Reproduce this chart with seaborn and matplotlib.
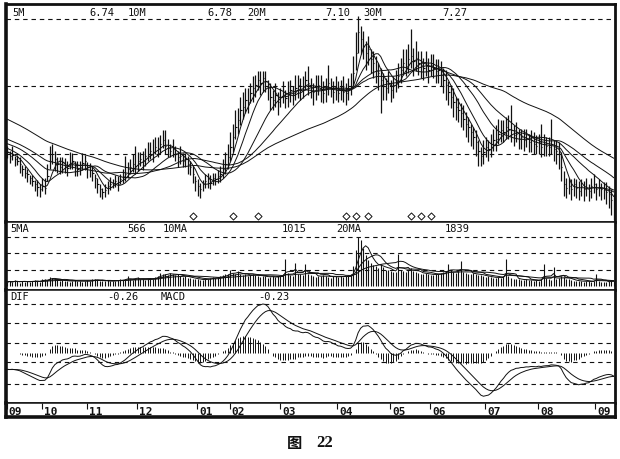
import numpy as np
import pandas as pd
import matplotlib
matplotlib.use("Agg")
import matplotlib.pyplot as plt
import seaborn as sns
from matplotlib.transforms import blended_transform_factory

# closes before the first visible bar (only used to warm up the MAs / MACD,
# estimated from where the MA lines start at the left edge)
prior_close = [
    10.20, 10.15, 10.10, 10.12, 10.05, 10.00, 9.98, 9.95, 9.90, 9.92,
    9.85, 9.80, 9.78, 9.75, 9.70, 9.65, 9.62, 9.58, 9.55, 9.50,
    9.45, 9.42, 9.38, 9.35, 9.30, 9.25, 9.22, 9.18, 9.15, 9.10,
    8.95, 8.90, 8.85, 8.80, 8.78, 8.72, 8.68, 8.65, 8.60, 8.57,
    8.55, 8.52, 8.50, 8.48, 8.47, 8.45, 8.43, 8.42, 8.40, 8.38,
    8.35, 8.32, 8.30, 8.28, 8.25, 8.20, 8.15, 8.10, 8.05, 8.00,
]

# daily closes, Sep .. Sep (243 bars)
close = [
    8.05, 7.95, 7.98, 7.85, 7.80, 7.70, 7.55, 7.45, 7.40, 7.28,
    7.20, 7.10, 7.02, 6.95, 7.05, 7.00, 7.35, 7.80, 8.00, 7.85,
    7.70, 7.60, 7.75, 7.62, 7.58, 7.70, 7.80, 7.65, 7.55, 7.62,
    7.72, 7.78, 7.60, 7.52, 7.45, 7.30, 7.10, 6.95, 6.88, 6.92,
    7.05, 7.12, 7.15, 7.20, 7.10, 7.25, 7.35, 7.40, 7.55, 7.60,
    7.70, 7.65, 7.80, 7.85, 7.78, 7.95, 8.00, 8.10, 8.05, 8.20,
    8.15, 8.30, 8.40, 8.25, 8.20, 8.10, 8.15, 8.00, 7.90, 7.95,
    7.80, 7.85, 7.70, 7.60, 7.40, 7.20, 7.05, 6.95, 7.10, 7.20,
    7.25, 7.15, 7.30, 7.25, 7.35, 7.40, 7.55, 7.70, 7.90, 8.20,
    8.50, 8.80, 9.00, 9.30, 9.40, 9.60, 9.55, 9.80, 9.95, 10.05,
    10.20, 10.10, 10.25, 10.15, 9.95, 9.70, 9.60, 9.75, 9.55, 9.70,
    9.85, 9.65, 9.80, 9.90, 9.75, 9.95, 10.05, 9.90, 10.00, 10.20,
    10.10, 9.95, 9.85, 9.95, 10.05, 9.90, 9.80, 9.95, 10.10, 10.00,
    9.85, 9.90, 9.80, 9.95, 9.85, 9.80, 9.90, 10.00, 10.40, 11.00,
    11.60, 11.40, 11.20, 11.00, 11.10, 10.80, 10.70, 10.50, 10.40, 10.20,
    10.00, 9.95, 10.10, 9.90, 10.05, 10.15, 10.30, 10.50, 10.70, 10.60,
    10.80, 10.90, 10.75, 10.85, 10.70, 10.65, 10.55, 10.60, 10.50, 10.65,
    10.55, 10.45, 10.50, 10.35, 10.20, 10.05, 9.85, 9.70, 9.55, 9.40,
    9.30, 9.20, 9.05, 8.90, 8.80, 8.65, 8.50, 8.35, 8.10, 7.95,
    8.05, 8.20, 8.15, 8.30, 8.40, 8.45, 8.60, 8.70, 8.65, 8.80,
    8.75, 8.70, 8.55, 8.60, 8.45, 8.50, 8.40, 8.45, 8.35, 8.40,
    8.30, 8.25, 8.35, 8.20, 8.30, 8.25, 8.20, 8.30, 8.15, 8.10,
    8.00, 7.60, 7.10, 7.00, 7.05, 6.95, 7.10, 7.00, 6.90, 7.05,
    6.95, 7.00, 6.90, 7.05, 7.10, 6.95, 7.00, 6.95, 6.92, 6.88,
    6.80, 6.65, 6.45,
]

# distance from close up to the high / down to the low
bar_up = [
    .20, .15, .25, .10, .18, .22, .12, .20, .15, .10,
    .18, .12, .20, .15, .25, .30, .35, .45, .30, .25,
    .20, .30, .15, .25, .20, .35, .22, .15, .25, .18,
    .30, .20, .15, .22, .18, .12, .20, .15, .10, .18,
    .15, .20, .12, .18, .25, .15, .20, .55, .20, .25,
    .30, .60, .25, .20, .30, .22, .35, .25, .40, .30,
    .35, .25, .30, .45, .25, .20, .30, .25, .20, .30,
    .22, .18, .25, .20, .25, .15, .20, .18, .12, .20,
    .18, .22, .15, .20, .18, .25, .30, .35, .40, .45,
    .40, .50, .35, .40, .45, .35, .40, .30, .35, .30,
    .25, .35, .20, .30, .25, .40, .30, .35, .30, .25,
    .30, .25, .35, .30, .25, .40, .30, .35, .30, .25,
    .50, .30, .25, .40, .30, .45, .35, .30, .55, .25,
    .30, .40, .35, .25, .45, .30, .35, .40, .50, .60,
    .50, .40, .45, .35, .40, .30, .35, .40, .30, .35,
    .40, .30, .35, .30, .25, .35, .40, .35, .40, .50,
    .45, .80, .40, .50, .35, .40, .30, .45, .35, .30,
    .40, .35, .30, .40, .35, .45, .30, .35, .40, .30,
    .35, .30, .40, .35, .30, .25, .30, .35, .30, .25,
    .35, .30, .25, .30, .35, .40, .45, .30, .35, .30,
    .40, .75, .30, .35, .30, .25, .35, .30, .25, .30,
    .35, .30, .25, .70, .30, .25, .30, .75, .25, .30,
    .35, .45, .40, .30, .25, .30, .20, .25, .30, .20,
    .25, .30, .20, .25, .30, .20, .25, .20, .25, .30,
    .25, .30, .35,
]
bar_dn = [
    .18, .22, .15, .20, .12, .25, .20, .15, .22, .18,
    .15, .20, .25, .22, .15, .20, .15, .25, .30, .35,
    .25, .20, .30, .18, .22, .15, .25, .30, .20, .25,
    .18, .25, .30, .20, .25, .30, .25, .22, .20, .18,
    .25, .20, .15, .18, .20, .15, .22, .20, .25, .18,
    .22, .25, .30, .20, .25, .30, .22, .25, .30, .20,
    .25, .30, .22, .25, .30, .20, .25, .22, .30, .25,
    .20, .25, .30, .22, .25, .30, .28, .25, .20, .22,
    .25, .20, .22, .18, .20, .22, .25, .30, .35, .40,
    .45, .35, .40, .45, .35, .40, .35, .30, .40, .35,
    .30, .35, .40, .30, .35, .40, .30, .35, .40, .30,
    .35, .30, .40, .35, .30, .35, .40, .30, .35, .30,
    .35, .30, .40, .35, .30, .35, .30, .40, .35, .30,
    .35, .30, .25, .35, .30, .35, .30, .25, .40, .50,
    .60, .45, .40, .50, .45, .40, .45, .40, .50, 1.00,
    .40, .35, .30, .35, .40, .30, .35, .40, .35, .30,
    .40, .35, .45, .40, .35, .40, .35, .30, .40, .35,
    .30, .35, .40, .35, .40, .45, .40, .35, .45, .40,
    .35, .40, .35, .40, .45, .40, .35, .40, .45, .30,
    .35, .30, .35, .40, .30, .35, .30, .35, .30, .35,
    .30, .35, .30, .25, .30, .35, .30, .25, .30, .35,
    .30, .25, .35, .30, .35, .30, .25, .30, .35, .40,
    .45, .40, .35, .30, .25, .30, .35, .30, .25, .30,
    .35, .25, .30, .35, .25, .30, .25, .30, .25, .35,
    .40, .45, .40,
]

volume = [
    25, 30, 22, 35, 28, 20, 32, 26, 30, 24,
    28, 35, 30, 25, 40, 45, 38, 55, 50, 42,
    35, 30, 38, 28, 32, 25, 30, 36, 28, 33,
    26, 30, 35, 28, 40, 45, 38, 32, 30, 28,
    35, 30, 28, 32, 38, 42, 36, 40, 58, 45,
    38, 42, 55, 40, 45, 38, 42, 50, 45, 52,
    60, 82, 70, 75, 68, 80, 72, 65, 70, 60,
    55, 62, 48, 50, 45, 40, 42, 38, 35, 40,
    45, 50, 55, 48, 52, 60, 65, 70, 75, 95,
    80, 70, 90, 75, 65, 70, 60, 68, 72, 65,
    60, 55, 62, 58, 50, 55, 60, 52, 58, 62,
    70, 165, 80, 65, 60, 140, 75, 70, 68, 135,
    70, 65, 60, 55, 62, 58, 65, 60, 55, 50,
    58, 62, 55, 60, 52, 58, 65, 70, 120, 220,
    300, 280, 230, 190, 160, 140, 130, 120, 110, 135,
    115, 100, 95, 90, 88, 85, 195, 95, 90, 85,
    100, 110, 90, 85, 80, 75, 70, 78, 72, 68,
    65, 70, 75, 80, 85, 90, 135, 95, 85, 80,
    90, 150, 85, 80, 75, 70, 78, 72, 68, 65,
    60, 55, 58, 52, 50, 48, 55, 50, 58, 165,
    60, 50, 45, 42, 40, 38, 35, 40, 36, 34,
    32, 35, 30, 45, 135, 50, 40, 38, 115, 45,
    50, 60, 55, 45, 40, 35, 30, 32, 28, 30,
    26, 30, 28, 25, 30, 75, 28, 25, 22, 26,
    30, 35, 28,
]

signal_idx = [74, 90, 100, 135, 139, 144, 161, 165, 169]

month_start = [0, 14, 32, 52, 76, 89, 109, 132, 153, 169, 191, 212, 235]
month_label = ["09", "10", "11", "12", "01", "02", "03", "04", "05", "06", "07", "08", "09"]

price_head = [("5M", 12), ("6.74", 89), ("10M", 128), ("6.78", 207),
              ("20M", 247), ("7.10", 325), ("30M", 363), ("7.27", 442)]
vol_head = [("5MA", 10), ("566", 127), ("10MA", 163), ("1015", 282),
            ("20MA", 336), ("1839", 445)]
macd_head = [("DIF", 10), ("-0.26", 107), ("MACD", 161), ("-0.23", 258)]

price_ma = [5, 10, 20, 30, 60]
vol_ma = [5, 10, 20]

# ---------------------------------------------------------------------------
n0 = len(prior_close)
full = pd.Series(prior_close + close)
idx = np.arange(len(close))
c = np.array(close)
high = c + np.array(bar_up)
low = c - np.array(bar_dn)

ema12 = full.ewm(span=12, adjust=False).mean()
ema26 = full.ewm(span=26, adjust=False).mean()
dif_all = ema12 - ema26
dea_all = dif_all.ewm(span=9, adjust=False).mean()
dif = dif_all.iloc[n0:].to_numpy()
dea = dea_all.iloc[n0:].to_numpy()
hist = dif - dea

sns.set_theme(style="white")
plt.rcParams["font.family"] = ["DejaVu Sans Mono", "Noto Sans CJK SC"]

W, H = 620, 459
fig = plt.figure(figsize=(W / 100, H / 100), dpi=100)


def box(x0, y0, x1, y1):
    return [x0 / W, 1 - y1 / H, (x1 - x0) / W, (y1 - y0) / H]


ax_p = fig.add_axes(box(6, 4, 615, 222))
ax_v = fig.add_axes(box(6, 222, 615, 290))
ax_m = fig.add_axes(box(6, 290, 615, 403))
ax_t = fig.add_axes(box(6, 403, 615, 417))

dash = (0, (4, 3.5))
ink = "#111111"

# price panel
for v in (12, 10, 8):
    ax_p.axhline(v, color=ink, lw=0.8, ls=dash)
ax_p.vlines(idx, low, high, color=ink, lw=0.9)
ax_p.hlines(c, idx, idx + 0.5, color=ink, lw=0.8)
for p in price_ma:
    m = full.rolling(p, min_periods=1).mean().iloc[n0:].to_numpy()
    sns.lineplot(x=idx, y=m, ax=ax_p, color=ink, linewidth=0.7)
tr = blended_transform_factory(ax_p.transData, ax_p.transAxes)
ax_p.scatter(signal_idx, [0.026] * len(signal_idx), transform=tr, marker="D", s=13,
             facecolor="white", edgecolor=ink, linewidth=0.7, zorder=5)
ax_p.set_ylim(5.985, 12.444)

# volume panel
vs = pd.Series(volume, dtype=float)
for v in (100, 200, 300):
    ax_v.axhline(v, color=ink, lw=0.8, ls=dash)
ax_v.vlines(idx, 0, volume, color=ink, lw=0.8)
for p in vol_ma:
    sns.lineplot(x=idx, y=vs.rolling(p, min_periods=1).mean().to_numpy(), ax=ax_v,
                 color=ink, linewidth=0.7)
ax_v.set_ylim(-24, 388)

# macd panel
for f in (0.876, 0.708, 0.531, 0.363, 0.168):
    ax_m.plot([0, 1], [f, f], transform=ax_m.transAxes, color=ink, lw=0.8, ls=dash)
ax_m.vlines(idx, 0, hist, color=ink, lw=0.7)
sns.lineplot(x=idx, y=dif, ax=ax_m, color=ink, linewidth=0.7)
sns.lineplot(x=idx, y=dea, ax=ax_m, color=ink, linewidth=0.7)
s = np.abs(dif).max() / 49
ax_m.set_ylim(-50 * s, 63 * s)

# month strip
ax_t.set_ylim(0, 1)
ax_t.vlines(np.array(month_start) - 0.3, 0.55, 1.0, color=ink, lw=0.8)
for m, lab in zip(month_start, month_label):
    ax_t.text(m + 0.6, 0.36, lab, ha="left", va="center", fontsize=8,
              fontweight="bold", color=ink)

for ax in (ax_p, ax_v, ax_m, ax_t):
    ax.set_xlim(-0.5, len(close) - 0.5)
    ax.set_xticks([])
    ax.set_yticks([])
    ax.set_xlabel("")
    ax.set_ylabel("")
    for side, sp in ax.spines.items():
        sp.set_visible(True)
        sp.set_color(ink)
        sp.set_linewidth(1.1)
    ax.spines["left"].set_linewidth(2.6)
    ax.spines["right"].set_linewidth(2.0)
ax_p.spines["top"].set_linewidth(2.0)
ax_t.spines["bottom"].set_linewidth(2.6)

for txt, x in price_head:
    fig.text(x / W, 1 - 13 / H, txt, ha="left", va="center", fontsize=7.5, color=ink)
for txt, x in vol_head:
    fig.text(x / W, 1 - 229 / H, txt, ha="left", va="center", fontsize=7.5, color=ink)
for txt, x in macd_head:
    fig.text(x / W, 1 - 297 / H, txt, ha="left", va="center", fontsize=7.5, color=ink)

fig.text(294 / W, 1 - 443 / H, "图", ha="center", va="center", fontsize=11,
         fontweight="bold", family=["Noto Sans CJK SC"], color=ink)
fig.text(325 / W, 1 - 443 / H, "22", ha="center", va="center", fontsize=12,
         fontweight="bold", family=["Liberation Serif"], color=ink)

fig.savefig("out.png", dpi=100, facecolor="white")
